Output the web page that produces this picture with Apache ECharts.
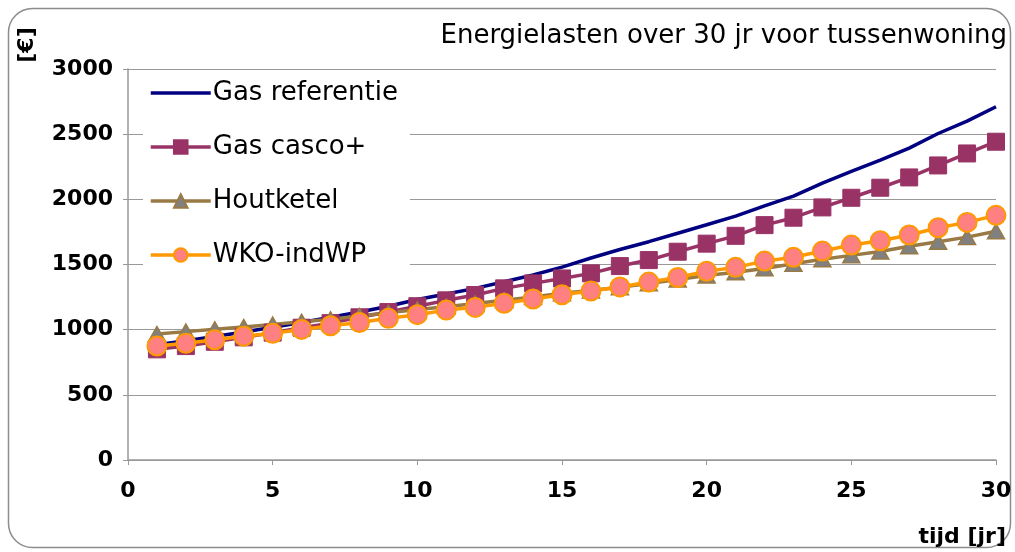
<!DOCTYPE html>
<html>
<head>
<meta charset="utf-8">
<script src="https://cdn.jsdelivr.net/npm/echarts@6/dist/echarts.min.js"></script>
<style>html,body{margin:0;padding:0;background:#fff}#c{width:1015px;height:552px}</style>
</head>
<body>
<div id="c"></div>
<script>
const years = [1,2,3,4,5,6,7,8,9,10,11,12,13,14,15,16,17,18,19,20,21,22,23,24,25,26,27,28,29,30];
const gasReferentie = [885,915,948,982,1018,1055,1095,1135,1180,1232,1273,1317,1368,1419,1480,1550,1615,1675,1740,1805,1871,1950,2025,2125,2215,2300,2393,2505,2600,2710];
const gasCasco = [849,874,907,941,977,1015,1050,1095,1135,1180,1225,1266,1317,1355,1393,1432,1488,1534,1598,1660,1720,1802,1859,1938,2012,2089,2168,2260,2352,2442];
const houtketel = [967,985,1003,1020,1040,1060,1080,1105,1130,1155,1175,1200,1225,1250,1280,1300,1325,1355,1385,1415,1440,1470,1505,1540,1570,1600,1640,1675,1710,1755];
const wkoIndWP = [874,895,922,950,972,1002,1030,1055,1087,1115,1150,1171,1202,1235,1268,1296,1328,1365,1400,1448,1478,1526,1555,1603,1649,1682,1726,1782,1823,1877];
const seriesNames = ['Gas referentie','Gas casco+','Houtketel','WKO-indWP'];
const xTicks = [0,5,10,15,20,25,30];
const yTicks = [0,500,1000,1500,2000,2500,3000];

const pair = arr => years.map((y,i)=>[y,arr[i]]);
const FONT = '"DejaVu Sans", Verdana, sans-serif';
const chart = echarts.init(document.getElementById('c'));
chart.setOption({
  animation:false,
  backgroundColor:'#fff',
  title:{text:'Energielasten over 30 jr voor tussenwoning',right:3,top:18,
    textStyle:{fontFamily:FONT,fontSize:26,fontWeight:'normal',color:'#000'}},
  graphic:[
    {type:'rect',shape:{x:8.5,y:8.5,width:1002,height:539,r:24},style:{fill:'none',stroke:'#8c8c8c',lineWidth:1.5},z:-1},
    {type:'text',x:27,y:45,rotation:Math.PI/2,style:{text:'[€]',font:'bold 22px '+FONT,fill:'#000',align:'center',verticalAlign:'middle'}},
    {type:'text',x:1006,y:537,style:{text:'tijd [jr]',font:'bold 22px '+FONT,fill:'#000',align:'right',verticalAlign:'middle'}}
  ],
  grid:{left:128,right:19,top:69,bottom:92,containLabel:false},
  legend:{orient:'vertical',left:143,top:72,itemWidth:60,itemHeight:17,itemGap:28,
    backgroundColor:'#fff',padding:[8,12,8,6],
    textStyle:{fontFamily:FONT,fontSize:26,color:'#000',padding:[0,0,0,-3]},
    data:[
      {name:seriesNames[0],itemStyle:{opacity:0},lineStyle:{width:3.5}},
      {name:seriesNames[1],lineStyle:{width:3.5}},
      {name:seriesNames[2],lineStyle:{width:3.5}},
      {name:seriesNames[3],lineStyle:{width:3.5}}
    ]},
  xAxis:{type:'value',min:xTicks[0],max:xTicks[xTicks.length-1],interval:5,
    axisLine:{show:true,onZero:false,lineStyle:{color:'#999',width:1.5}},
    axisTick:{show:true,length:5,lineStyle:{color:'#999'}},
    splitLine:{show:false},
    axisLabel:{fontFamily:FONT,fontSize:22,fontWeight:'bold',color:'#000',margin:20}},
  yAxis:{type:'value',min:yTicks[0],max:yTicks[yTicks.length-1],interval:500,
    axisLine:{show:true,lineStyle:{color:'#999',width:1.5}},
    axisTick:{show:true,length:5,lineStyle:{color:'#999'}},
    splitLine:{show:true,lineStyle:{color:'#999',width:1.2}},
    axisLabel:{fontFamily:FONT,fontSize:22,fontWeight:'bold',color:'#000',margin:15,formatter:v=>String(v)}},
  series:[
    {name:seriesNames[0],type:'line',data:pair(gasReferentie),showSymbol:false,symbol:'none',
      lineStyle:{color:'#000080',width:3.5},itemStyle:{color:'#000080'}},
    {name:seriesNames[1],type:'line',data:pair(gasCasco),symbol:'rect',symbolSize:17,
      lineStyle:{color:'#993366',width:3.5},itemStyle:{color:'#993366',borderColor:'#993366',borderWidth:1}},
    {name:seriesNames[2],type:'line',data:pair(houtketel),symbol:'triangle',symbolSize:[17,15],
      lineStyle:{color:'#997a45',width:3.5},itemStyle:{color:'#808080',borderColor:'#997a45',borderWidth:1.5}},
    {name:seriesNames[3],type:'line',data:pair(wkoIndWP),symbol:'circle',symbolSize:19,
      lineStyle:{color:'#ff9900',width:3.5},itemStyle:{color:'#ff8080',borderColor:'#ff9900',borderWidth:2}}
  ]
});
</script>
</body>
</html>
